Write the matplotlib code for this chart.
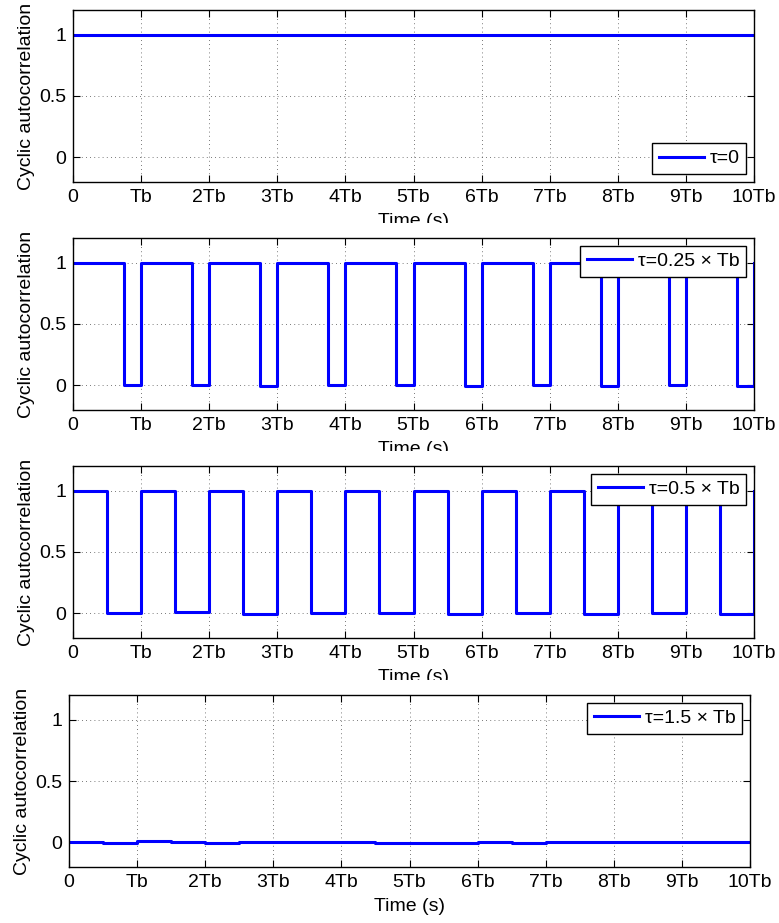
import numpy as np
import matplotlib.pyplot as plt
from matplotlib.transforms import Bbox, TransformedBbox

plt.rcParams['font.family'] = ['Liberation Sans', 'DejaVu Sans']
plt.rcParams['font.size'] = 14

# time axis in bit periods
bit_ticks = np.arange(0, 11)
bit_labels = ['0', 'Tb', '2Tb', '3Tb', '4Tb', '5Tb', '6Tb', '7Tb', '8Tb', '9Tb', '10Tb']

# tau = 0 -> constant 1
level_tau0 = 1.0

# tau = 0.25 Tb -> level of each dip (one per bit)
tau_a = 0.25
dips_a = [0.005, 0.005, -0.008, 0.005, 0.005, -0.008, 0.005, -0.005, 0.0, -0.005]

# tau = 0.5 Tb -> level of each low part (one per bit)
tau_b = 0.5
dips_b = [0.005, 0.008, -0.008, 0.0, 0.0, -0.005, 0.0, -0.005, 0.0, -0.005]

# tau = 1.5 Tb -> level on each half bit
half_levels = [0.003, -0.003, 0.01, 0.003, -0.005, 0.003, 0.0, 0.006, 0.003, -0.005,
               -0.003, -0.008, 0.003, -0.002, 0.0, 0.0, 0.003, 0.0, 0.0, 0.003]

labels = ['\u03c4=0', '\u03c4=0.25 \u00d7 Tb', '\u03c4=0.5 \u00d7 Tb', '\u03c4=1.5 \u00d7 Tb']


def step_series(tau, dips):
    x, y = [], []
    for k, d in enumerate(dips):
        x += [k, k + 1 - tau]
        y += [1.0, d]
    x.append(len(dips))
    y.append(1.0)
    return np.array(x), np.array(y)


series = []
series.append((np.array([0, 10]), np.array([level_tau0, level_tau0])))
series.append(step_series(tau_a, dips_a))
series.append(step_series(tau_b, dips_b))
xh = np.arange(0, 10.5, 0.5)
series.append((xh, np.array(half_levels + [half_levels[-1]])))

W, H = 779, 923
fig = plt.figure(figsize=(W / 100, H / 100), dpi=100)

tops = [10, 238, 466, 695]
lefts = [73, 73, 73, 69]
locs = ['lower right', 'upper right', 'upper right', 'upper right']

for i in range(4):
    ax = fig.add_axes([lefts[i] / W, 1 - (tops[i] + 172) / H, 681 / W, 172 / H])
    x, y = series[i]
    ax.plot(x, y, color='blue', lw=2.2, drawstyle='steps-post', label=labels[i])
    ax.set_xlim(0, 10)
    ax.set_ylim(-0.2, 1.2)
    ax.set_xticks(bit_ticks)
    ax.set_xticklabels(bit_labels)
    ax.set_yticks([0, 0.5, 1])
    ax.set_yticklabels(['0', '0.5', '1'])
    ax.grid(True, color='black', linestyle=(0, (1, 4)), linewidth=0.6, alpha=0.7)
    ax.tick_params(direction='in', top=True, right=True, length=5, width=0.8, pad=5)
    for s in ax.spines.values():
        s.set_linewidth(1)
    ax.set_ylabel('Cyclic autocorrelation', labelpad=3)
    xl = ax.set_xlabel('Time (s)', labelpad=5)
    if i < 3:
        # label is partly hidden by the next panel, as in the original
        cut = tops[i + 1] - 15
        xl.set_clip_on(True)
        xl.set_clip_box(TransformedBbox(Bbox([[0, 1 - cut / H], [1, 1]]), fig.transFigure))
    leg = ax.legend(loc=locs[i], fancybox=False, framealpha=1, edgecolor='black',
                    handlelength=2.3, borderpad=0.35, borderaxespad=0.4, handletextpad=0.3)
    leg.get_frame().set_linewidth(1)

plt.savefig('out.png', dpi=100)
